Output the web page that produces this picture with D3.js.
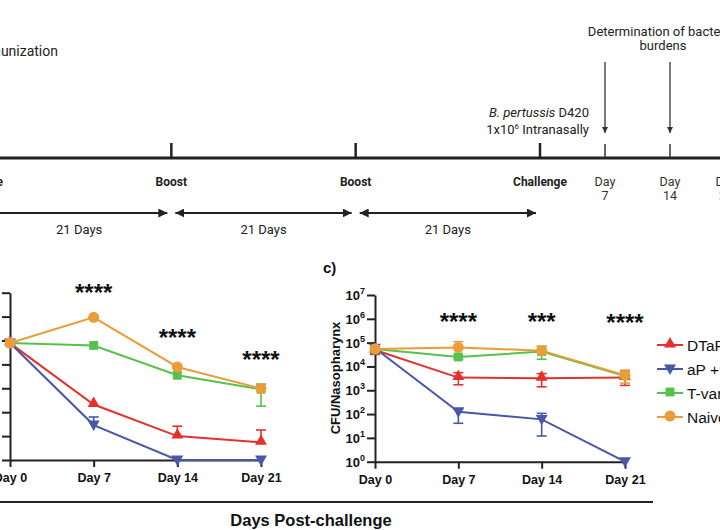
<!DOCTYPE html>
<html><head><meta charset="utf-8">
<script src="https://cdn.jsdelivr.net/npm/d3@7"></script>
<style>
html,body{margin:0;padding:0;background:#fff;}
svg{display:block;}
</style></head>
<body>
<script>
// ---------- DATA ----------
const days = [0, 7, 14, 21];
const dayLabels = ["Day 0", "Day 7", "Day 14", "Day 21"];
const seriesNames = ["DTaP", "aP + T", "T-var", "Naive"];
const seriesColors = ["#e5312c", "#4658a6", "#56c14b", "#eb9c3b"];
const seriesShapes = ["triUp", "triDown", "square", "circle"];

// Panel b (left, cut off) CFU values
const leftDTaP  = [7.8e4, 210, 10, 5.5];
const leftAPT   = [7.8e4, 29, 1, 1];
const leftTvar  = [7.8e4, 6.2e4, 3.5e3, 910];
const leftNaive = [7.8e4, 9.3e5, 7.8e3, 980];
const leftDTaPHi  = [7.8e4, 210, 26, 18];
const leftDTaPLo  = [7.8e4, 210, 10, 5.5];
const leftAPTHi   = [7.8e4, 63, 1, 1];
const leftAPTLo   = [7.8e4, 29, 1, 1];
const leftTvarHi  = [7.8e4, 6.2e4, 3.5e3, 1500];
const leftTvarLo  = [7.8e4, 6.2e4, 3.5e3, 180];
const leftNaiveHi = [7.8e4, 9.3e5, 7.8e3, 1100];
const leftNaiveLo = [7.8e4, 9.3e5, 7.8e3, 980];

// Panel c (right) CFU/Nasopharynx
const rightDTaP  = [4.9e4, 3.4e3, 3.2e3, 3.4e3];
const rightAPT   = [5.8e4, 125, 60, 1];
const rightTvar  = [5.4e4, 2.5e4, 4.2e4, 4.0e3];
const rightNaive = [5.4e4, 6.3e4, 4.6e4, 4.3e3];
const rightDTaPHi  = [7.0e4, 5.5e3, 5.0e3, 6.5e3];
const rightDTaPLo  = [3.2e4, 1.7e3, 1.4e3, 1.6e3];
const rightAPTHi   = [7.0e4, 160, 107, 1];
const rightAPTLo   = [3.5e4, 41, 12, 1];
const rightTvarHi  = [6.5e4, 3.0e4, 7.0e4, 5.0e3];
const rightTvarLo  = [4.0e4, 2.0e4, 2.0e4, 3.0e3];
const rightNaiveHi = [6.5e4, 1.1e5, 7.0e4, 7.0e3];
const rightNaiveLo = [4.5e4, 6.3e4, 4.6e4, 2.0e3];

const yTickExps = [0, 1, 2, 3, 4, 5, 6, 7];
const leftStars = ["****", "****", "****"];
const rightStars = ["****", "***", "****"];

// timeline
const tlMajorLabels = ["Boost", "Boost", "Challenge"];
const tlDayLabels = [["Day", "7"], ["Day", "14"], ["Day", "21"]];
const intervalLabels = ["21 Days", "21 Days", "21 Days"];

// ---------- DRAW ----------
const W = 720, H = 530;
const svg = d3.select("body").append("svg").attr("width", W).attr("height", H);

const sans = "'Liberation Sans', Arial, sans-serif";
const rob = "Roboto, sans-serif";
const dark = "#222";

// ===== Timeline =====
const tl = svg.append("g");
const tlY = 158;
const tX = d3.scaleLinear().domain([0, 63]).range([-13, 540]);
const pX = d3.scaleLinear().domain([0, 7, 14, 21]).range([540, 605, 670, 726]);

tl.append("line").attr("x1", 0).attr("x2", W).attr("y1", tlY).attr("y2", tlY)
  .attr("stroke", dark).attr("stroke-width", 3);

[21, 42, 63].forEach((d, i) => {
  const x = tX(d);
  tl.append("line").attr("x1", x).attr("x2", x).attr("y1", tlY - 15).attr("y2", tlY)
    .attr("stroke", dark).attr("stroke-width", 2.5);
  tl.append("text").attr("x", x).attr("y", 186).attr("text-anchor", "middle")
    .attr("font-family", rob).attr("font-weight", "bold").attr("font-size", 12)
    .attr("fill", dark).text(tlMajorLabels[i]);
});
tl.append("text").attr("x", tX(0)).attr("y", 186).attr("text-anchor", "middle")
  .attr("font-family", rob).attr("font-weight", "bold").attr("font-size", 12)
  .attr("fill", dark).text("Prime");

[7, 14, 21].forEach((d, i) => {
  const x = pX(d);
  tl.append("line").attr("x1", x).attr("x2", x).attr("y1", tlY - 14).attr("y2", tlY)
    .attr("stroke", "#333").attr("stroke-width", 1.5);
  tl.append("text").attr("x", x).attr("y", 186).attr("text-anchor", "middle")
    .attr("font-family", rob).attr("font-size", 12.5).attr("fill", "#333").text(tlDayLabels[i][0]);
  tl.append("text").attr("x", x).attr("y", 200).attr("text-anchor", "middle")
    .attr("font-family", rob).attr("font-size", 12.5).attr("fill", "#333").text(tlDayLabels[i][1]);
});

// arrowheads
const defs = svg.append("defs");
function mk(id, color, w, h) {
  const m = defs.append("marker").attr("id", id).attr("viewBox", "0 0 10 10")
    .attr("refX", 10).attr("refY", 5).attr("markerWidth", w).attr("markerHeight", h)
    .attr("markerUnits", "userSpaceOnUse").attr("orient", "auto-start-reverse");
  m.append("path").attr("d", "M0,0 L10,5 L0,10 z").attr("fill", color);
}
mk("ah", dark, 9, 9);
mk("ahs", "#333", 6, 7);

const spans = [[0, 21], [21, 42], [42, 63]];
spans.forEach((s, i) => {
  const x1 = tX(s[0]) + (i === 0 ? -20 : 4);
  const x2 = tX(s[1]) - 4;
  const l = tl.append("line").attr("x1", x1).attr("x2", x2).attr("y1", 213).attr("y2", 213)
    .attr("stroke", dark).attr("stroke-width", 1.8).attr("marker-end", "url(#ah)");
  if (i > 0) l.attr("marker-start", "url(#ah)");
  tl.append("text").attr("x", (tX(s[0]) + tX(s[1])) / 2).attr("y", 234)
    .attr("text-anchor", "middle").attr("font-family", rob).attr("font-size", 13)
    .attr("fill", dark).text(intervalLabels[i]);
});

// top texts
tl.append("text").attr("x", 58).attr("y", 56).attr("font-family", rob).attr("font-size", 14)
  .attr("fill", dark).attr("text-anchor", "end").text("Immunization");
const bp = tl.append("text").attr("x", 589).attr("y", 117).attr("text-anchor", "end")
  .attr("font-family", rob).attr("font-size", 13).attr("fill", dark);
bp.append("tspan").attr("font-style", "italic").text("B. pertussis");
bp.append("tspan").text(" D420");
const ib = tl.append("text").attr("x", 589).attr("y", 134).attr("text-anchor", "end")
  .attr("font-family", rob).attr("font-size", 13).attr("fill", dark);
ib.append("tspan").text("1x10");
ib.append("tspan").attr("font-size", 8).attr("dy", -5).text("6");
ib.append("tspan").attr("dy", 5).text(" Intranasally");

tl.append("text").attr("x", 663).attr("y", 36).attr("text-anchor", "middle")
  .attr("font-family", rob).attr("font-size", 13).attr("fill", dark).text("Determination of bacterial");
tl.append("text").attr("x", 663).attr("y", 50).attr("text-anchor", "middle")
  .attr("font-family", rob).attr("font-size", 13).attr("fill", dark).text("burdens");
[7, 14].forEach(d => {
  const x = pX(d);
  tl.append("line").attr("x1", x).attr("x2", x).attr("y1", 62).attr("y2", 133)
    .attr("stroke", "#333").attr("stroke-width", 1.3).attr("marker-end", "url(#ahs)");
});

// ===== Panels =====
function symbolPath(shape) {
  if (shape === "triUp" || shape === "triDown") return d3.symbol().type(d3.symbolTriangle).size(62)();
  if (shape === "square") return d3.symbol().type(d3.symbolSquare).size(78)();
  return d3.symbol().type(d3.symbolCircle).size(95)();
}

function panel(opts) {
  const g = svg.append("g");
  const x = d3.scaleLinear().domain([0, 21]).range(opts.xr);
  const y = d3.scaleLog().domain([1, 1e7]).range(opts.yr);

  const xa = g.append("g").attr("transform", `translate(0,${opts.yr[0]})`)
    .call(d3.axisBottom(x).tickValues(days).tickFormat((d, i) => dayLabels[i]).tickSize(7).tickSizeOuter(0));
  xa.select(".domain").attr("stroke", dark).attr("stroke-width", 2);
  xa.selectAll(".tick line").attr("stroke", dark).attr("stroke-width", 2);
  xa.selectAll("text").attr("font-family", sans).attr("font-weight", "bold")
    .attr("font-size", 12.5).attr("fill", "#111").attr("y", 13).attr("dy", "0.71em");

  const ya = g.append("g").attr("transform", `translate(${opts.xr[0]},0)`)
    .call(d3.axisLeft(y).tickValues(yTickExps.map(e => Math.pow(10, e))).tickSize(8).tickSizeOuter(0).tickFormat(""));
  ya.select(".domain").attr("stroke", dark).attr("stroke-width", 2);
  ya.selectAll(".tick line").attr("stroke", dark).attr("stroke-width", 2);
  if (opts.yLabels) {
    yTickExps.forEach(e => {
      const t = g.append("text").attr("x", opts.xr[0] - 10).attr("y", y(Math.pow(10, e)) + 5)
        .attr("text-anchor", "end").attr("font-family", sans).attr("font-weight", "bold")
        .attr("font-size", 13).attr("fill", "#111");
      t.append("tspan").text("10");
      t.append("tspan").attr("font-size", 9).attr("dy", -6).text(String(e));
    });
  }

  const line = d3.line().x((d, i) => x(days[i])).y(d => y(d));
  opts.series.forEach((s, k) => {
    const c = seriesColors[k];
    g.append("path").attr("d", line(s.v)).attr("fill", "none").attr("stroke", c).attr("stroke-width", 2);
    s.v.forEach((v, i) => {
      const cx = x(days[i]);
      const hi = s.hi[i], lo = s.lo[i];
      if (hi > v * 1.05) {
        g.append("line").attr("x1", cx).attr("x2", cx).attr("y1", y(v)).attr("y2", y(hi)).attr("stroke", c).attr("stroke-width", 1.6);
        g.append("line").attr("x1", cx - 5).attr("x2", cx + 5).attr("y1", y(hi)).attr("y2", y(hi)).attr("stroke", c).attr("stroke-width", 1.6);
      }
      if (lo < v / 1.05) {
        g.append("line").attr("x1", cx).attr("x2", cx).attr("y1", y(v)).attr("y2", y(lo)).attr("stroke", c).attr("stroke-width", 1.6);
        g.append("line").attr("x1", cx - 5).attr("x2", cx + 5).attr("y1", y(lo)).attr("y2", y(lo)).attr("stroke", c).attr("stroke-width", 1.6);
      }
    });
  });
  opts.series.forEach((s, k) => {
    const c = seriesColors[k];
    s.v.forEach((v, i) => {
      const sh = seriesShapes[k];
      const rot = sh === "triDown" ? 180 : 0;
      g.append("path").attr("d", symbolPath(sh)).attr("fill", c)
        .attr("transform", `translate(${x(days[i])},${y(v) + (sh === "triDown" || sh === "triUp" ? -1 : 0)}) rotate(${rot})`);
    });
  });

  opts.stars.forEach((st, i) => {
    g.append("text").attr("x", x(days[i + 1])).attr("y", opts.starY[i])
      .attr("text-anchor", "middle").attr("font-family", sans).attr("font-weight", "bold")
      .attr("font-size", 24).attr("fill", "#111").text(st);
  });
  return { g, x, y };
}

panel({
  xr: [10, 261], yr: [460, 292.7], yLabels: false,
  series: [
    { v: leftDTaP, hi: leftDTaPHi, lo: leftDTaPLo },
    { v: leftAPT, hi: leftAPTHi, lo: leftAPTLo },
    { v: leftTvar, hi: leftTvarHi, lo: leftTvarLo },
    { v: leftNaive, hi: leftNaiveHi, lo: leftNaiveLo }
  ],
  stars: leftStars, starY: [301, 346, 368]
});

panel({
  xr: [375, 625], yr: [461.7, 295], yLabels: true,
  series: [
    { v: rightDTaP, hi: rightDTaPHi, lo: rightDTaPLo },
    { v: rightAPT, hi: rightAPTHi, lo: rightAPTLo },
    { v: rightTvar, hi: rightTvarHi, lo: rightTvarLo },
    { v: rightNaive, hi: rightNaiveHi, lo: rightNaiveLo }
  ],
  stars: rightStars, starY: [330, 330, 331]
});

svg.append("text").attr("x", 323).attr("y", 273).attr("font-family", sans).attr("font-weight", "bold")
  .attr("font-size", 15).attr("fill", "#111").text("c)");
svg.append("text").attr("transform", "translate(340,378) rotate(-90)").attr("text-anchor", "middle")
  .attr("font-family", sans).attr("font-weight", "bold").attr("font-size", 13).attr("fill", "#111")
  .text("CFU/Nasopharynx");

// legend
const lg = svg.append("g");
const legY = d3.scalePoint().domain(seriesNames).range([345, 417]);
seriesNames.forEach((n, k) => {
  const yy = legY(n);
  lg.append("line").attr("x1", 657).attr("x2", 683).attr("y1", yy).attr("y2", yy)
    .attr("stroke", seriesColors[k]).attr("stroke-width", 2);
  const sh = seriesShapes[k];
  lg.append("path").attr("d", symbolPath(sh)).attr("fill", seriesColors[k])
    .attr("transform", `translate(670,${yy - 1}) rotate(${sh === "triDown" ? 180 : 0})`);
  lg.append("text").attr("x", 687).attr("y", yy + 5.5).attr("font-family", sans)
    .attr("font-size", 15.5).attr("fill", "#111").text(n);
});

svg.append("line").attr("x1", 0).attr("x2", 653).attr("y1", 502).attr("y2", 502)
  .attr("stroke", dark).attr("stroke-width", 2);
svg.append("text").attr("x", 311).attr("y", 526).attr("text-anchor", "middle")
  .attr("font-family", sans).attr("font-weight", "bold").attr("font-size", 16.5).attr("fill", "#111")
  .text("Days Post-challenge");
</script>
</body></html>
